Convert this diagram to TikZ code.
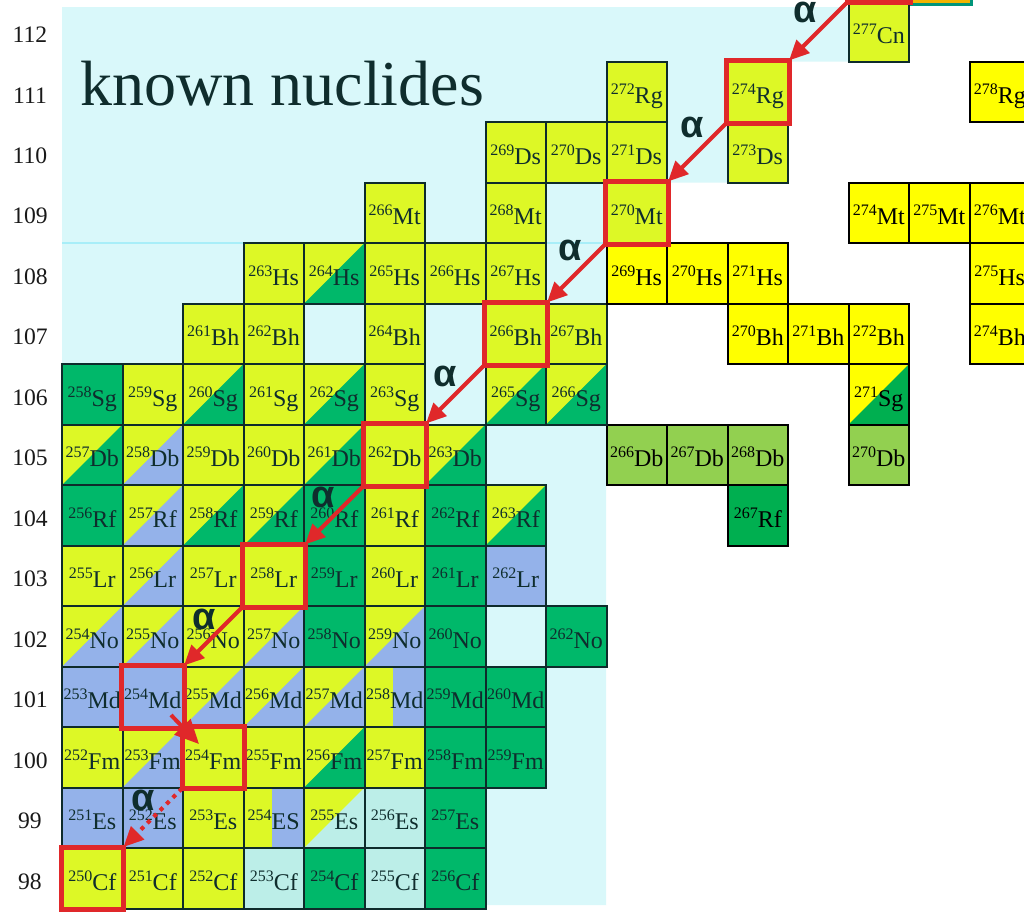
\documentclass[tikz,border=0pt]{standalone}
\usepackage{fontspec}
\setmainfont{Liberation Serif}
\newfontfamily\alphafont{Liberation Sans}
\usetikzlibrary{arrows.meta,calc}
\definecolor{cLime}{HTML}{DDF826}
\definecolor{cGreen}{HTML}{00B86A}
\definecolor{cBlue}{HTML}{94B2EA}
\definecolor{cCell}{HTML}{BCEEE8}
\definecolor{cBg}{HTML}{D9F8FA}
\definecolor{cBgLine}{HTML}{A8EEF8}
\definecolor{cYel}{HTML}{FFFF00}
\definecolor{cOlive}{HTML}{92D050}
\definecolor{cDkG}{HTML}{00AF50}
\definecolor{cBord}{HTML}{0E2B2B}
\definecolor{cTxt}{HTML}{0F2D2D}
\definecolor{cRed}{HTML}{E0282A}
\definecolor{cOrange}{HTML}{F2B400}
\definecolor{cTeal}{HTML}{00957A}
\newcommand\nlbl[2]{\raisebox{4.5pt}{\fontsize{8}{8}\selectfont #1}#2}
\newcommand\mknuc[6]{\node[#6] (#1) at ({62+(#2+0.5)*60.5},{848-(#3-98)*60.5+30.25}) {\nlbl{#4}{#5}};}
\newcommand\mkrow[1]{\node[rowlbl] (r#1) at (30,{848-(#1-98)*60.5+33.75}) {#1};}
\tikzset{
  cell/.style={draw=cBord, line width=1pt, minimum width=30.25pt, minimum height=30.25pt,
    inner sep=0pt, text height=11.8pt, text depth=0pt, text=cTxt, font=\fontsize{12}{12}\selectfont},
  lowright/.style={path picture={\fill[#1] (path picture bounding box.south west) -| (path picture bounding box.north east) -- cycle;}},
  vsplit/.style={path picture={\fill[#1] ($(path picture bounding box.south west)!0.47!(path picture bounding box.south east)$) rectangle (path picture bounding box.north east);}},
  L/.style={cell, fill=cLime},
  G/.style={cell, fill=cGreen},
  B/.style={cell, fill=cBlue},
  C/.style={cell, fill=cCell},
  LB/.style={cell, fill=cLime, lowright=cBlue},
  LG/.style={cell, fill=cLime, lowright=cGreen},
  LC/.style={cell, fill=cLime, lowright=cCell},
  LBv/.style={cell, fill=cLime, vsplit=cBlue},
  R/.style={cell, draw=black, text=black},
  Y/.style={R, fill=cYel},
  O/.style={R, fill=cOlive},
  DG/.style={R, fill=cDkG},
  YG/.style={R, fill=cYel, lowright=cDkG},
  rowlbl/.style={font=\fontsize{11.8}{11.8}\selectfont, text=black!90, inner sep=0pt},
  alab/.style={font=\alphafont\bfseries\fontsize{19}{19}\selectfont, text=cTxt, inner sep=0pt},
  redbox/.style={draw=cRed, line width=2.5pt},
  arr/.style={draw=cRed, line width=2pt, -{Triangle[length=10pt,width=9pt]}},
  darr/.style={arr, dash pattern=on 2pt off 2.5pt},
}
\begin{document}
\begin{tikzpicture}[x=0.5pt,y=-0.5pt]
\fill[white] (0,0) rectangle (1024,916);
\useasboundingbox (0,0) rectangle (1024,916);
% background of known nuclides
\fill[cBg] (62,7) -- (848,7) -- (848,61.5) -- (787,61.5) -- (787,182.5) -- (606,182.5) -- (606,905) -- (62,905) -- cycle;
\draw[cBgLine, line width=0.6pt] (62,243) -- (606,243);
\node[anchor=base west, font=\fontsize{32}{32}\selectfont, text=cTxt, inner sep=0pt] (title) at (80,105) {known nuclides};
% row labels
\foreach \z in {98,...,112} {\mkrow{\z}}
% Z=98
\mknuc{Cf250}{0}{98}{250}{Cf}{L}
\mknuc{Cf251}{1}{98}{251}{Cf}{L}
\mknuc{Cf252}{2}{98}{252}{Cf}{L}
\mknuc{Cf253}{3}{98}{253}{Cf}{C}
\mknuc{Cf254}{4}{98}{254}{Cf}{G}
\mknuc{Cf255}{5}{98}{255}{Cf}{C}
\mknuc{Cf256}{6}{98}{256}{Cf}{G}
% Z=99
\mknuc{Es251}{0}{99}{251}{Es}{B}
\mknuc{Es252}{1}{99}{252}{Es}{B}
\mknuc{Es253}{2}{99}{253}{Es}{L}
\mknuc{Es254}{3}{99}{254}{ES}{LBv}
\mknuc{Es255}{4}{99}{255}{Es}{LC}
\mknuc{Es256}{5}{99}{256}{Es}{C}
\mknuc{Es257}{6}{99}{257}{Es}{G}
% Z=100
\mknuc{Fm252}{0}{100}{252}{Fm}{L}
\mknuc{Fm253}{1}{100}{253}{Fm}{LB}
\mknuc{Fm254}{2}{100}{254}{Fm}{L}
\mknuc{Fm255}{3}{100}{255}{Fm}{L}
\mknuc{Fm256}{4}{100}{256}{Fm}{LG}
\mknuc{Fm257}{5}{100}{257}{Fm}{L}
\mknuc{Fm258}{6}{100}{258}{Fm}{G}
\mknuc{Fm259}{7}{100}{259}{Fm}{G}
% Z=101
\mknuc{Md253}{0}{101}{253}{Md}{B}
\mknuc{Md254}{1}{101}{254}{Md}{B}
\mknuc{Md255}{2}{101}{255}{Md}{LB}
\mknuc{Md256}{3}{101}{256}{Md}{LB}
\mknuc{Md257}{4}{101}{257}{Md}{LB}
\mknuc{Md258}{5}{101}{258}{Md}{LBv}
\mknuc{Md259}{6}{101}{259}{Md}{G}
\mknuc{Md260}{7}{101}{260}{Md}{G}
% Z=102
\mknuc{No254}{0}{102}{254}{No}{LB}
\mknuc{No255}{1}{102}{255}{No}{LB}
\mknuc{No256}{2}{102}{256}{No}{L}
\mknuc{No257}{3}{102}{257}{No}{LB}
\mknuc{No258}{4}{102}{258}{No}{G}
\mknuc{No259}{5}{102}{259}{No}{LB}
\mknuc{No260}{6}{102}{260}{No}{G}
\mknuc{No262}{8}{102}{262}{No}{G}
% Z=103
\mknuc{Lr255}{0}{103}{255}{Lr}{L}
\mknuc{Lr256}{1}{103}{256}{Lr}{LB}
\mknuc{Lr257}{2}{103}{257}{Lr}{L}
\mknuc{Lr258}{3}{103}{258}{Lr}{L}
\mknuc{Lr259}{4}{103}{259}{Lr}{G}
\mknuc{Lr260}{5}{103}{260}{Lr}{L}
\mknuc{Lr261}{6}{103}{261}{Lr}{G}
\mknuc{Lr262}{7}{103}{262}{Lr}{B}
% Z=104
\mknuc{Rf256}{0}{104}{256}{Rf}{G}
\mknuc{Rf257}{1}{104}{257}{Rf}{LB}
\mknuc{Rf258}{2}{104}{258}{Rf}{LG}
\mknuc{Rf259}{3}{104}{259}{Rf}{LG}
\mknuc{Rf260}{4}{104}{260}{Rf}{G}
\mknuc{Rf261}{5}{104}{261}{Rf}{L}
\mknuc{Rf262}{6}{104}{262}{Rf}{G}
\mknuc{Rf263}{7}{104}{263}{Rf}{LG}
\mknuc{Rf267}{11}{104}{267}{Rf}{DG}
% Z=105
\mknuc{Db257}{0}{105}{257}{Db}{LG}
\mknuc{Db258}{1}{105}{258}{Db}{LB}
\mknuc{Db259}{2}{105}{259}{Db}{L}
\mknuc{Db260}{3}{105}{260}{Db}{L}
\mknuc{Db261}{4}{105}{261}{Db}{LG}
\mknuc{Db262}{5}{105}{262}{Db}{L}
\mknuc{Db263}{6}{105}{263}{Db}{LG}
\mknuc{Db266}{9}{105}{266}{Db}{O}
\mknuc{Db267}{10}{105}{267}{Db}{O}
\mknuc{Db268}{11}{105}{268}{Db}{O}
\mknuc{Db270}{13}{105}{270}{Db}{O}
% Z=106
\mknuc{Sg258}{0}{106}{258}{Sg}{G}
\mknuc{Sg259}{1}{106}{259}{Sg}{L}
\mknuc{Sg260}{2}{106}{260}{Sg}{LG}
\mknuc{Sg261}{3}{106}{261}{Sg}{L}
\mknuc{Sg262}{4}{106}{262}{Sg}{LG}
\mknuc{Sg263}{5}{106}{263}{Sg}{L}
\mknuc{Sg265}{7}{106}{265}{Sg}{LG}
\mknuc{Sg266}{8}{106}{266}{Sg}{LG}
\mknuc{Sg271}{13}{106}{271}{Sg}{YG}
% Z=107
\mknuc{Bh261}{2}{107}{261}{Bh}{L}
\mknuc{Bh262}{3}{107}{262}{Bh}{L}
\mknuc{Bh264}{5}{107}{264}{Bh}{L}
\mknuc{Bh266}{7}{107}{266}{Bh}{L}
\mknuc{Bh267}{8}{107}{267}{Bh}{L}
\mknuc{Bh270}{11}{107}{270}{Bh}{Y}
\mknuc{Bh271}{12}{107}{271}{Bh}{Y}
\mknuc{Bh272}{13}{107}{272}{Bh}{Y}
\mknuc{Bh274}{15}{107}{274}{Bh}{Y}
% Z=108
\mknuc{Hs263}{3}{108}{263}{Hs}{L}
\mknuc{Hs264}{4}{108}{264}{Hs}{LG}
\mknuc{Hs265}{5}{108}{265}{Hs}{L}
\mknuc{Hs266}{6}{108}{266}{Hs}{L}
\mknuc{Hs267}{7}{108}{267}{Hs}{L}
\mknuc{Hs269}{9}{108}{269}{Hs}{Y}
\mknuc{Hs270}{10}{108}{270}{Hs}{Y}
\mknuc{Hs271}{11}{108}{271}{Hs}{Y}
\mknuc{Hs275}{15}{108}{275}{Hs}{Y}
% Z=109
\mknuc{Mt266}{5}{109}{266}{Mt}{L}
\mknuc{Mt268}{7}{109}{268}{Mt}{L}
\mknuc{Mt270}{9}{109}{270}{Mt}{L}
\mknuc{Mt274}{13}{109}{274}{Mt}{Y}
\mknuc{Mt275}{14}{109}{275}{Mt}{Y}
\mknuc{Mt276}{15}{109}{276}{Mt}{Y}
% Z=110
\mknuc{Ds269}{7}{110}{269}{Ds}{L}
\mknuc{Ds270}{8}{110}{270}{Ds}{L}
\mknuc{Ds271}{9}{110}{271}{Ds}{L}
\mknuc{Ds273}{11}{110}{273}{Ds}{L}
% Z=111
\mknuc{Rg272}{9}{111}{272}{Rg}{L}
\mknuc{Rg274}{11}{111}{274}{Rg}{L}
\mknuc{Rg278}{15}{111}{278}{Rg}{Y}
% Z=112
\mknuc{Cn277}{13}{112}{277}{Cn}{L}
% cut-off cells of Z=113
\node[cell, draw=none, fill=none] (topred) at (878.75,-29.25) {};
\node[cell, draw=cTeal, line width=1.5pt, fill=cOrange] (topteal) at (941.5,-25.5) {};
% red highlight boxes
\foreach \n in {topred,Rg274,Mt270,Bh266,Db262,Lr258,Md254,Fm254,Cf250}
  {\draw[redbox] (\n.south west) rectangle (\n.north east);}
% decay arrows
\draw[arr] (topred.south west) -- (Rg274.north east);
\draw[arr] (Rg274.south west) -- (Mt270.north east);
\draw[arr] (Mt270.south west) -- (Bh266.north east);
\draw[arr] (Bh266.south west) -- (Db262.north east);
\draw[arr] (Db262.south west) -- (Lr258.north east);
\draw[arr] (Lr258.south west) -- (Md254.north east);
\draw[arr, -{Triangle[length=12pt,width=11pt]}] ($(Md254.south east)+(-13,-13)$) -- ($(Fm254.north west)+(17,18)$);
\draw[darr] (Fm254.south west) -- (Cf250.north east);
% alpha labels
\node[alab] (a1) at (805,12) {α};
\node[alab] (a2) at (692,127) {α};
\node[alab] (a3) at (570,250) {α};
\node[alab] (a4) at (445,376) {α};
\node[alab] (a5) at (323,497) {α};
\node[alab] (a6) at (204,619) {α};
\node[alab] (a7) at (143,800) {α};
\end{tikzpicture}
\end{document}
